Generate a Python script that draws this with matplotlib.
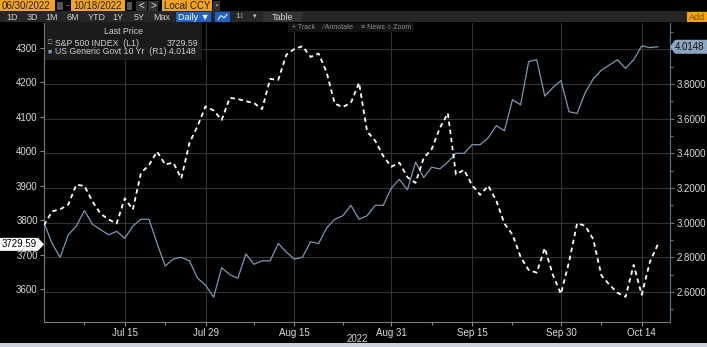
import matplotlib
matplotlib.use('Agg')
import matplotlib.pyplot as plt
import matplotlib.ticker as tkr
from matplotlib.patches import Rectangle, Polygon
from matplotlib.transforms import IdentityTransform
import pandas as pd
import numpy as np

# DATA
holidays   = ['2022-07-04', '2022-09-05']
trade_days = pd.bdate_range('2022-06-30', '2022-10-18', freq='C', holidays=holidays)

spx = [3785.38,
       3825.33, 3831.39, 3845.08, 3902.62, 3899.38, 3854.43, 3818.80, 3801.78, 3790.38, 3863.16,
       3830.85, 3936.69, 3959.90, 3998.95, 3961.63, 3966.84, 3921.05, 4023.61, 4072.43, 4130.29,
       4118.63, 4091.19, 4155.17, 4151.94, 4145.19, 4140.06, 4122.47, 4210.24, 4207.27, 4280.15,
       4297.14, 4305.20, 4274.04, 4283.74, 4228.48, 4137.99, 4128.73, 4140.77, 4199.12, 4057.66,
       4030.61, 3986.16, 3955.00,
       3966.85, 3924.26, 3908.19, 3979.87, 4006.18, 4067.36, 4110.41, 3932.69, 3946.01, 3901.35,
       3873.33, 3899.89, 3855.93, 3789.93, 3757.99, 3693.23, 3655.04, 3647.29, 3719.04, 3640.47,
       3585.62,
       3678.43, 3790.93, 3783.28, 3744.52, 3639.66, 3612.39, 3588.84, 3577.03, 3669.91, 3583.07,
       3677.95, 3729.59]

ust10 = [3.00,
         2.88, 2.80, 2.93, 2.98, 3.07, 2.99, 2.96, 2.93, 2.95, 2.91,
         2.98, 3.02, 3.02, 2.88, 2.75, 2.79, 2.80, 2.78, 2.68, 2.64,
         2.57, 2.74, 2.70, 2.68, 2.82, 2.76, 2.78, 2.78, 2.88, 2.83,
         2.79, 2.80, 2.89, 2.88, 2.97, 3.02, 3.04, 3.10, 3.02, 3.04,
         3.10, 3.10, 3.20,
         3.25, 3.19, 3.35, 3.26, 3.32, 3.31, 3.35, 3.40, 3.40, 3.45,
         3.45, 3.49, 3.56, 3.53, 3.71, 3.68, 3.93, 3.94, 3.73, 3.78,
         3.82,
         3.64, 3.63, 3.75, 3.83, 3.88, 3.91, 3.94, 3.89, 3.94, 4.02,
         4.01, 4.0148]

tick_dates  = ['2022-07-15', '2022-07-29', '2022-08-15', '2022-08-31',
               '2022-09-15', '2022-09-30', '2022-10-14']
tick_labels = ['Jul 15', 'Jul 29', 'Aug 15', 'Aug 31', 'Sep 15', 'Sep 30', 'Oct 14']
minor_dates = ['2022-07-08', '2022-07-22', '2022-08-08', '2022-08-23',
               '2022-09-08', '2022-09-22', '2022-10-07']
left_ticks  = [3600, 3700, 3800, 3900, 4000, 4100, 4200, 4300]
right_ticks = [2.6, 2.8, 3.0, 3.2, 3.4, 3.6, 3.8, 4.0]

spx_name = 'S&P 500 INDEX  (L1)'
ust_name = 'US Generic Govt 10 Yr  (R1)'

# COLORS
ORANGE   = '#f3a31f'
BLUE     = '#7f97b4'
GRID     = '#333333'
TXT      = '#dcdcdc'

plt.rcParams['font.family'] = ['Liberation Sans', 'DejaVu Sans']

W, H = 707, 347
fig = plt.figure(figsize=(W / 100, H / 100), dpi=100, facecolor='black')

def fx(x):
    return x / W

def fy(y):
    return 1 - y / H

def box(x0, y0, x1, y1, color, z=1):
    fig.patches.append(Rectangle((fx(x0), fy(y1)), (x1 - x0) / W, (y1 - y0) / H,
                                 transform=fig.transFigure, facecolor=color,
                                 edgecolor='none', zorder=z))

def label(x, y, s, color=TXT, size=7, ha='left', z=6, **kw):
    fig.text(fx(x), fy(y), s, color=color, fontsize=size, ha=ha, va='center',
             zorder=z, **kw)

# top toolbar, row 1
box(0, 0, 55, 11, ORANGE)
label(2, 5.8, '06/30/2022', '#202020')
box(57, 2, 63, 10, '#555555')
label(66, 5.5, '-', ORANGE)
box(71, 0, 125, 11, ORANGE)
label(73, 5.8, '10/18/2022', '#202020')
box(127, 2, 132, 10, '#555555')
box(136, 1, 147, 11, '#333333')
label(141.5, 5.8, '<', '#e0e0e0', ha='center')
box(148, 1, 158, 11, '#333333')
label(153, 5.8, '>', '#e0e0e0', ha='center')
box(162, 0, 212, 11, ORANGE)
label(164, 5.8, 'Local CCY', '#202020')
box(213, 1, 220, 11, '#333333')
label(216.5, 6, '\u25aa', '#e0e0e0', size=4, ha='center')

# row 2
box(0, 11, 707, 22, '#262626')
for xx, s in zip([12, 32, 52, 73, 97, 118, 139, 162],
                 ['1D', '3D', '1M', '6M', 'YTD', '1Y', '5Y', 'Max']):
    label(xx, 17, s, '#d0d0d0', size=6.5, ha='center')
box(176, 12, 211, 22, '#1f62c4')
label(193.5, 17, 'Daily \u25bc', 'white', size=6.5, ha='center')
box(215, 12, 230, 22, '#1f62c4')
fig.lines.append(plt.Line2D([fx(218), fx(221), fx(224), fx(227)],
                            [fy(19.5), fy(15.5), fy(18), fy(14.5)],
                            transform=fig.transFigure, color='white', lw=0.7, zorder=6))
label(240, 17, '1\u2195', '#d0d0d0', size=6, ha='center')
label(255, 17, '\u25be', '#d0d0d0', size=5, ha='center')
box(263, 12, 302, 22, '#333333')
label(283, 17, 'Table', '#d0d0d0', size=6.5, ha='center')
box(687, 12, 707, 22, ORANGE)
label(689, 17, 'Add', '#8a5200', size=6.5)

# bottom strip
box(0, 343, 707, 347, '#c9d1d9')

# AXES
ax2 = fig.add_axes([fx(44), fy(322), (670 - 44) / W, (322 - 23) / H])
ax2.set_facecolor('black')
ax = ax2.twinx()
ax.yaxis.tick_left()
ax.yaxis.set_label_position('left')
ax.patch.set_visible(False)
ax2.set_zorder(1)
ax.set_zorder(2)

x = np.arange(len(spx))
ax2.plot(x, ust10, color=BLUE, lw=0.9, zorder=3)
ax.plot(x, spx, color='white', lw=1.3, linestyle=(0, (2.5, 2)), zorder=3)

ax2.set_xlim(0, 77.5)
ax.set_ylim(3504, 4372.6)
ax2.set_ylim(2.427, 4.152)

pos = list(trade_days.strftime('%Y-%m-%d'))
major_x = [pos.index(d) for d in tick_dates]
minor_x = [pos.index(d) for d in minor_dates]

ax2.set_xticks(major_x)
ax2.set_xticklabels(tick_labels)
ax2.set_xticks(minor_x, minor=True)
for xv in major_x:
    ax2.axvline(xv, color=GRID, lw=0.8, zorder=1)

# last right tick is hidden under the value tag
def right_fmt(v, p):
    return '' if v > 3.9 else '%.4f' % v

ax2.set_yticks(right_ticks)
ax2.yaxis.set_major_formatter(tkr.FuncFormatter(right_fmt))
ax2.yaxis.set_minor_locator(tkr.MultipleLocator(0.1))
ax2.yaxis.tick_right()
ax2.yaxis.grid(True, color=GRID, lw=0.8)
ax2.set_axisbelow(True)

ax.set_yticks(left_ticks)

for a in (ax, ax2):
    a.tick_params(which='both', colors='#8a8a8a', labelcolor=TXT, labelsize=7,
                  direction='out', length=3, width=0.8, pad=1.5)
    a.tick_params(which='minor', length=2)
    for sp in a.spines.values():
        sp.set_visible(False)
ax2.tick_params(axis='x', pad=1)

ax.spines['left'].set_visible(True)
ax.spines['left'].set_color('#7a7a7a')
ax2.spines['bottom'].set_visible(True)
ax2.spines['bottom'].set_color('#7a7a7a')
ax2.spines['right'].set_visible(True)
ax2.spines['right'].set_color('#5d728c')
ax2.tick_params(axis='y', which='both', colors='#5d728c', labelcolor=TXT)

label(357, 338.5, '2022', TXT, size=7, ha='center')

# legend box
box(45, 22, 202, 60, '#1b1b1b', z=5)
label(124, 32, 'Last Price', '#d0d0d0', size=6.3, ha='center')
label(48, 43, '\u25a1', '#bbbbbb', size=5)
label(55, 43, spx_name, '#d0d0d0', size=6.3)
label(198, 43, '%.2f' % spx[-1], '#d0d0d0', size=6.3, ha='right')
label(48, 52, '\u25a0', BLUE, size=5)
label(55, 52, ust_name + ' %.4f' % ust10[-1], '#d0d0d0', size=6.3)

# chart toolbar
box(288, 23, 414, 32, '#141414', z=5)
for xx, s in zip([292, 322, 361, 387],
                 ['+ Track', '\u2215 Annotate', '\u2261 News', '\u25cb Zoom']):
    label(xx, 27.5, s, '#8c8c8c', size=5)

# last value tags
yl = ax.transData.transform((0, spx[-1]))[1]
fig.patches.append(Polygon([(0, yl - 6.5), (38, yl - 6.5), (44, yl), (38, yl + 6.5), (0, yl + 6.5)],
                           transform=IdentityTransform(), facecolor='white',
                           edgecolor='none', zorder=5))
fig.text(19.5 / W, yl / H, '%.2f' % spx[-1], color='black', fontsize=7,
         ha='center', va='center', zorder=6)

yr = ax2.transData.transform((0, ust10[-1]))[1]
fig.patches.append(Polygon([(670, yr), (675, yr + 7), (707, yr + 7), (707, yr - 7), (675, yr - 7)],
                           transform=IdentityTransform(), facecolor='#8ea5c0',
                           edgecolor='none', zorder=5))
fig.text(690 / W, yr / H, '%.4f' % ust10[-1], color='#101010', fontsize=7,
         ha='center', va='center', zorder=6)

fig.savefig('out.png', dpi=100, facecolor='black')
